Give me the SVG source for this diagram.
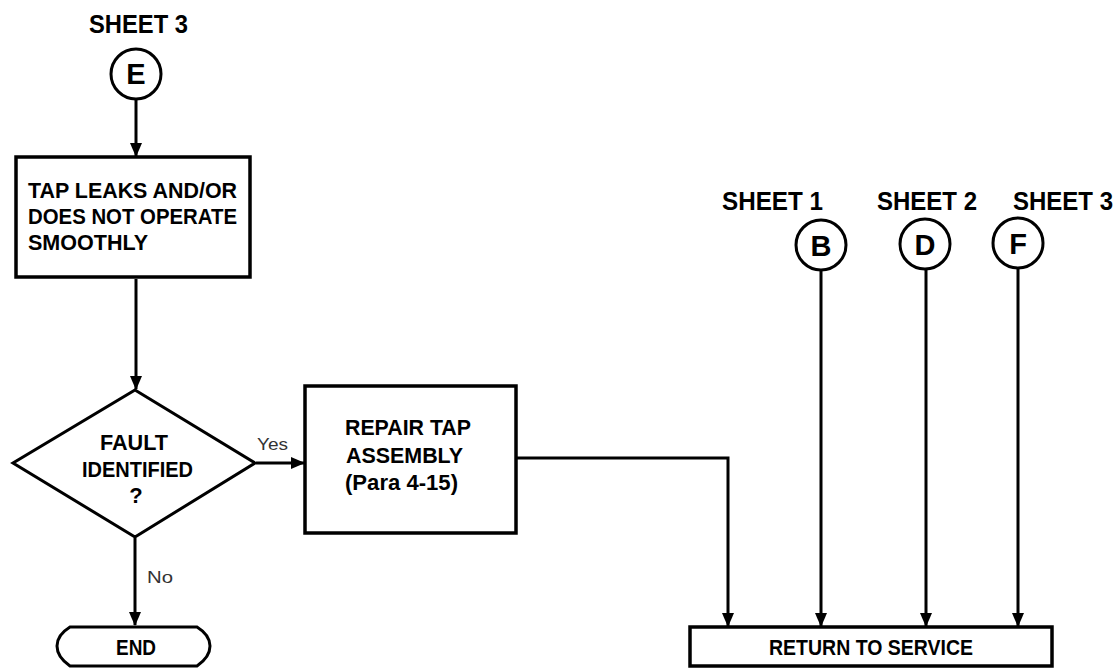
<svg xmlns="http://www.w3.org/2000/svg" width="1118" height="668" viewBox="0 0 1118 668">
<style>
text{font-family:"Liberation Sans",Arial,sans-serif;fill:#000}
.b{font-weight:bold;font-size:22px}
.sh{font-weight:bold;font-size:25px}
.ci{font-size:29px;font-weight:bold;text-anchor:middle}
.lb{font-size:17px;fill:#333}
.box{fill:#fff;stroke:#000;stroke-width:3.5}
.cir{fill:#fff;stroke:#000;stroke-width:3}
.con{fill:none;stroke:#000;stroke-width:3;marker-end:url(#ah)}
</style>
<defs>
<marker id="ah" viewBox="0 0 14 12" refX="13" refY="6" markerWidth="14" markerHeight="12" markerUnits="userSpaceOnUse" orient="auto">
<path d="M0,0 L14,6 L0,12 Z" fill="#000"/>
</marker>
</defs>
<g id="connectors">
<path class="con" d="M136,99 V156"/>
<path class="con" d="M136,279 V389"/>
<path class="con" d="M256,463 H304"/>
<path class="con" d="M135,538 V625"/>
<path class="con" d="M517,458 H728 V626"/>
<path class="con" d="M821,271 V626"/>
<path class="con" d="M926,270 V626"/>
<path class="con" d="M1018,269 V626"/>
<text class="lb" x="257" y="450" textLength="31" lengthAdjust="spacingAndGlyphs">Yes</text>
<text class="lb" x="147" y="583" textLength="26" lengthAdjust="spacingAndGlyphs">No</text>
</g>
<g id="sheet3E">
<text class="sh" x="89" y="33" textLength="99" lengthAdjust="spacingAndGlyphs">SHEET 3</text>
<circle class="cir" cx="136" cy="74" r="25"/>
<text class="ci" x="136" y="84">E</text>
</g>
<g id="tapLeaks">
<rect class="box" x="16" y="157" width="234" height="120"/>
<text class="b" x="28" y="198" textLength="209" lengthAdjust="spacingAndGlyphs">TAP LEAKS AND/OR</text>
<text class="b" x="28" y="224" textLength="209" lengthAdjust="spacingAndGlyphs">DOES NOT OPERATE</text>
<text class="b" x="28" y="250" textLength="120" lengthAdjust="spacingAndGlyphs">SMOOTHLY</text>
</g>
<g id="faultIdentified">
<path class="box" d="M135,390 L255,463 L135,537 L13,463 Z" style="stroke-width:3"/>
<text class="b" x="100" y="450" textLength="68" lengthAdjust="spacingAndGlyphs">FAULT</text>
<text class="b" x="82" y="477" textLength="111" lengthAdjust="spacingAndGlyphs">IDENTIFIED</text>
<text class="b" x="136" y="503" text-anchor="middle">?</text>
</g>
<g id="repairTap">
<rect class="box" x="305" y="386" width="211" height="147"/>
<text class="b" x="345" y="435" textLength="126" lengthAdjust="spacingAndGlyphs">REPAIR TAP</text>
<text class="b" x="346" y="463" textLength="117" lengthAdjust="spacingAndGlyphs">ASSEMBLY</text>
<text class="b" x="345" y="490" textLength="113" lengthAdjust="spacingAndGlyphs">(Para 4-15)</text>
</g>
<g id="end">
<path class="box" d="M70,627 H197 Q210,635 210,646 Q210,657 197,666 H70 Q57,657 57,646 Q57,635 70,627 Z" style="stroke-width:3"/>
<text class="b" x="116" y="655" textLength="40" lengthAdjust="spacingAndGlyphs">END</text>
</g>
<g id="sheet1B">
<text class="sh" x="722" y="210" textLength="101" lengthAdjust="spacingAndGlyphs">SHEET 1</text>
<circle class="cir" cx="821" cy="245" r="25"/>
<text class="ci" x="821" y="256">B</text>
</g>
<g id="sheet2D">
<text class="sh" x="877" y="210" textLength="100" lengthAdjust="spacingAndGlyphs">SHEET 2</text>
<circle class="cir" cx="925" cy="244" r="25"/>
<text class="ci" x="925" y="255">D</text>
</g>
<g id="sheet3F">
<text class="sh" x="1013" y="210" textLength="100" lengthAdjust="spacingAndGlyphs">SHEET 3</text>
<circle class="cir" cx="1018" cy="243" r="25"/>
<text class="ci" x="1018" y="254">F</text>
</g>
<g id="returnToService">
<rect class="box" x="690" y="627" width="362" height="39"/>
<text class="b" x="769" y="655" textLength="204" lengthAdjust="spacingAndGlyphs">RETURN TO SERVICE</text>
</g>
</svg>
